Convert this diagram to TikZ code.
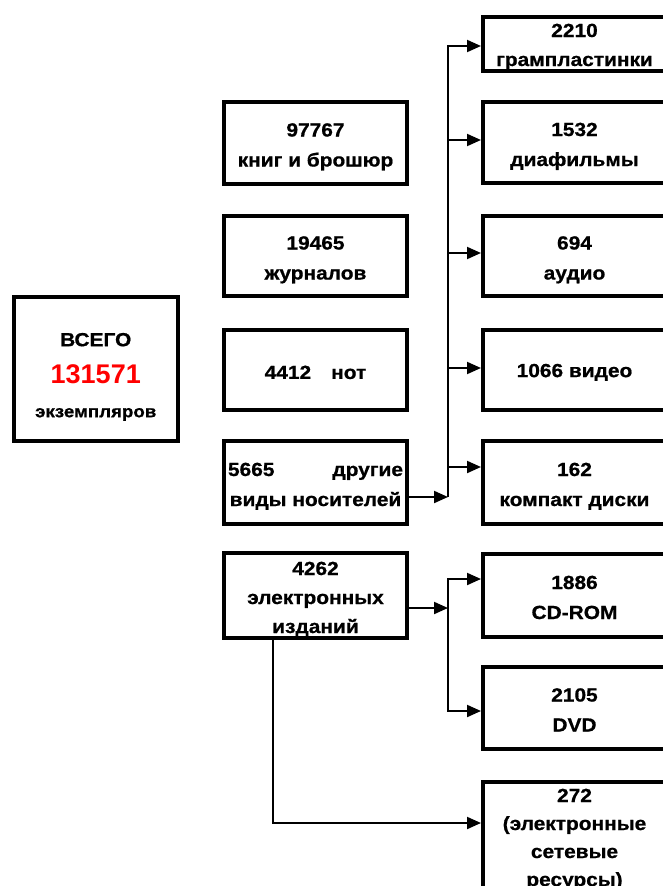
\documentclass[tikz,border=0pt]{standalone}
\usepackage{fontspec}
\setmainfont{Liberation Sans}
\newfontfamily\bx{Liberation Sans}[FakeStretch=1.1,BoldFeatures={FakeBold=0.8}]
\usetikzlibrary{arrows.meta}
\newcommand\boxtop[1][22pt]{\rule{0pt}{#1}}
\newcommand\boxbot{\rule[-5pt]{0pt}{5pt}}
\begin{document}
\begin{tikzpicture}[x=1pt,y=-1pt,
  box/.style={draw, line width=4pt, align=center, inner sep=0pt,
    font=\bx\bfseries\fontsize{19}{30}\selectfont},
  midbox/.style={box, minimum width=183pt},
  rightbox/.style={box, minimum width=183pt},
  conn/.style={line width=2pt},
  arr/.style={line width=2pt, -{Triangle[length=14pt,width=12pt]}}]
\useasboundingbox (0,0) rectangle (663,886);
\clip (0,0) rectangle (663,886);
\fill[white] (0,0) rectangle (663,886);

% total
\node[box, minimum width=164.5pt, minimum height=143.5pt,
  font=\bx\bfseries\fontsize{19}{34}\selectfont] (total) at (95.75,368.75)
  {\boxtop[29.5pt]ВСЕГО\\[3pt]{\rmfamily\bfseries\color{red}\fontsize{27}{34}\selectfont 131571}\\{\fontsize{17}{34}\selectfont экземпляров}};

% middle column
\node[midbox, minimum height=82pt] (m1) at (315.5,143) {\boxtop 97767\\книг и брошюр\boxbot};
\node[midbox, minimum height=80pt] (m2) at (315.5,256) {\boxtop 19465\\журналов\boxbot};
\node[midbox, minimum height=80pt] (m3) at (315.5,370) {\boxtop[18pt]4412\hspace{20pt}нот};
\node[midbox, minimum height=83pt] (m4) at (315.5,482.5)
  {\boxtop\makebox[175pt]{5665\hfill другие}\\виды носителей\boxbot};
\node[midbox, minimum height=83pt, font=\bx\bfseries\fontsize{19}{29}\selectfont] (m5) at (315.5,595.5)
  {\boxtop 4262\\электронных\\изданий\boxbot};

% right column
\node[rightbox, minimum height=54pt, font=\bx\bfseries\fontsize{19}{29}\selectfont] (r1) at (574.5,44)
  {\boxtop[20pt]2210\\грампластинки\boxbot};
\node[rightbox, minimum height=81pt] (r2) at (574.5,142.5) {\boxtop 1532\\диафильмы\boxbot};
\node[rightbox, minimum height=80pt] (r3) at (574.5,256) {\boxtop 694\\аудио\boxbot};
\node[rightbox, minimum height=80pt] (r4) at (574.5,370) {\boxtop[18pt]1066 видео};
\node[rightbox, minimum height=83pt] (r5) at (574.5,482.5) {\boxtop 162\\компакт диски\boxbot};
\node[rightbox, minimum height=83pt] (r6) at (574.5,595.5) {\boxtop 1886\\CD-ROM\boxbot};
\node[rightbox, minimum height=82pt] (r7) at (574.5,708) {\boxtop 2105\\DVD\boxbot};
\node[rightbox, minimum height=110pt, anchor=north,
  font=\bx\bfseries\fontsize{19}{28}\selectfont] (r8) at (574.5,780)
  {\boxtop[19pt]272\\(электронные\\сетевые\\ресурсы)\boxbot};

% bus 1
\coordinate (t1) at (448,46);
\coordinate (t2) at (448,140);
\coordinate (t3) at (448,253);
\coordinate (t4) at (448,368);
\coordinate (t5) at (448,467);
\coordinate (t6) at (448,497);
\draw[arr] (t6) -- (t1) -- (t1 -| r1.west);
\draw[arr] (t2) -- (t2 -| r2.west);
\draw[arr] (t3) -- (t3 -| r3.west);
\draw[arr] (t4) -- (t4 -| r4.west);
\draw[arr] (t5) -- (t5 -| r5.west);
\draw[arr] (t6 -| m4.east) -- (t6);

% bus 2
\coordinate (e1) at (448,579);
\coordinate (e2) at (448,608);
\coordinate (e3) at (448,711);
\draw[arr] (e2 -| m5.east) -- (e2);
\draw[arr] (e3) -- (e1) -- (e1 -| r6.west);
\draw[arr] (e1) -- (e3) -- (e3 -| r7.west);

% network resources
\coordinate (c1) at (273,823);
\draw[arr] (c1 |- m5.south) -- (c1) -- (c1 -| r8.west);
\end{tikzpicture}
\end{document}
